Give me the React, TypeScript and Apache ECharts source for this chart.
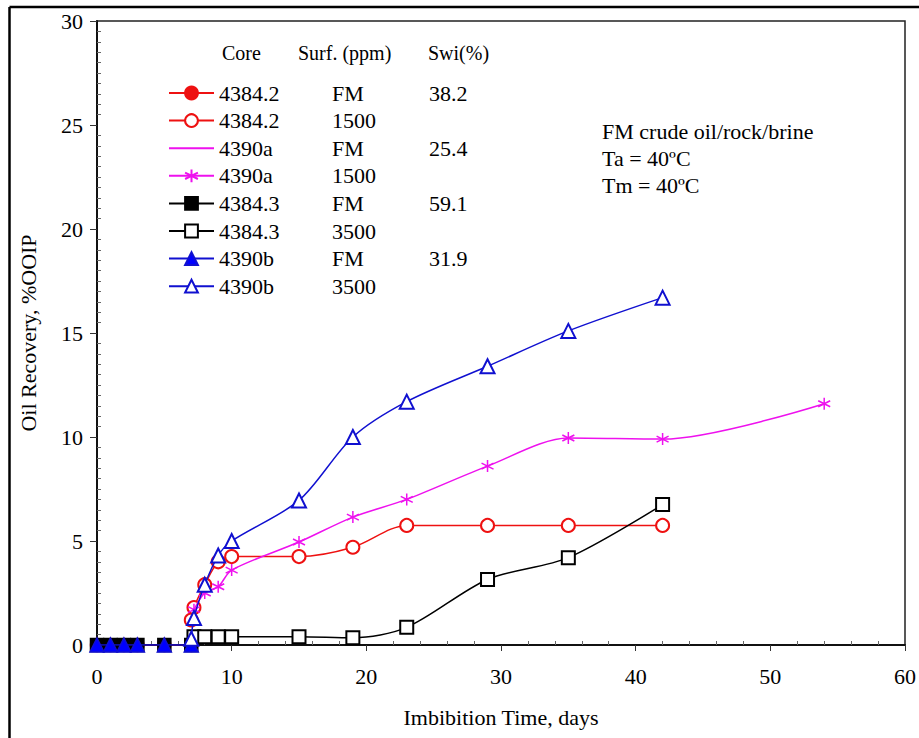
import React, { useEffect, useRef } from "react";
import * as echarts from "echarts";

// ---- data ----
const xTicks = [0, 10, 20, 30, 40, 50, 60];
const yTicks = [0, 5, 10, 15, 20, 25, 30];

const fmDays = [0, 1, 2, 3, 5, 7];
const fmRecovery = [0, 0, 0, 0, 0, 0];

const red1500Days = [7, 7.2, 8, 9, 10, 15, 19, 23, 29, 35, 42];
const red1500Rec = [1.2, 1.8, 2.9, 4.0, 4.25, 4.25, 4.7, 5.75, 5.75, 5.75, 5.75];

const mag1500Days = [7.2, 8, 9, 10, 15, 19, 23, 29, 35, 42, 54];
const mag1500Rec = [1.7, 2.5, 2.8, 3.6, 4.95, 6.15, 7.0, 8.6, 9.95, 9.9, 11.6];

const blk3500Days = [7.2, 8, 9, 10, 15, 19, 23, 29, 35, 42];
const blk3500Rec = [0.4, 0.4, 0.4, 0.4, 0.4, 0.35, 0.85, 3.15, 4.2, 6.75];

const blu3500Days = [7, 7.2, 8, 9, 10, 15, 19, 23, 29, 35, 42];
const blu3500Rec = [0.3, 1.3, 2.9, 4.3, 5.0, 6.95, 10.0, 11.7, 13.4, 15.1, 16.7];

const legendCore = ["4384.2", "4384.2", "4390a", "4390a", "4384.3", "4384.3", "4390b", "4390b"];
const legendSurf = ["FM", "1500", "FM", "1500", "FM", "3500", "FM", "3500"];
const legendSwi = ["38.2", "", "25.4", "", "59.1", "", "31.9", ""];

const headerLabels = ["Core", "Surf. (ppm)", "Swi(%)"];
const noteLines = ["FM crude oil/rock/brine", "Ta = 40ºC", "Tm = 40ºC"];

const RED = "#ee1111";
const MAG = "#ee11ee";
const BLK = "#000000";
const BLU = "#1010d0";
const FONT = "Liberation Serif";

const STAR = "path://M5,0 L5,10 M0.67,2.5 L9.33,7.5 M0.67,7.5 L9.33,2.5";

function pairs(xs: number[], ys: number[]) {
  return xs.map((x, i) => [x, ys[i]]);
}

export default function App() {
  const ref = useRef<HTMLDivElement>(null);
  useEffect(() => {
    if (!ref.current) return;
    document.body.style.margin = "0";
    const chart = echarts.init(ref.current, null, { renderer: "svg" });
    const names = legendCore.map((c, i) => `${c}|${legendSurf[i]}|${legendSwi[i]}`);

    const mk = (
      idx: number,
      xs: number[],
      ys: number[],
      color: string,
      symbol: string,
      size: number,
      fill: string
    ) => ({
      type: "line",
      name: names[idx],
      data: pairs(xs, ys),
      smooth: 0.3,
      symbol,
      symbolSize: size,
      showSymbol: symbol !== "none",
      lineStyle: { color, width: 1.5 },
      itemStyle: { color: fill, borderColor: color, borderWidth: 1.5 },
      emphasis: { disabled: true },
      z: 2 + idx,
    });

    const series = [
      mk(0, fmDays, fmRecovery, RED, "circle", 13, RED),
      mk(1, red1500Days, red1500Rec, RED, "emptyCircle", 13, RED),
      mk(2, fmDays, fmRecovery, MAG, "none", 10, MAG),
      mk(3, mag1500Days, mag1500Rec, MAG, STAR, 12, MAG),
      mk(4, fmDays, fmRecovery, BLK, "rect", 13, BLK),
      mk(5, blk3500Days, blk3500Rec, BLK, "emptyRect", 13, BLK),
      mk(6, fmDays, fmRecovery, BLU, "triangle", 14, "#0000ff"),
      mk(7, blu3500Days, blu3500Rec, BLU, "emptyTriangle", 14, BLU),
    ];

    const axisFont = { fontFamily: FONT, fontSize: 22, color: "#000" };

    chart.setOption({
      animation: false,
      backgroundColor: "#fff",
      textStyle: { fontFamily: FONT },
      grid: {
        left: 97,
        right: 14,
        top: 21,
        bottom: 93,
        show: true,
        borderColor: "#222",
        borderWidth: 1.5,
        backgroundColor: "transparent",
      },
      xAxis: [
        {
          type: "value",
          min: xTicks[0],
          max: xTicks[xTicks.length - 1],
          interval: 10,
          position: "bottom",
          name: "Imbibition Time, days",
          nameLocation: "middle",
          nameGap: 61,
          nameTextStyle: { ...axisFont, fontSize: 22 },
          axisLine: { show: true, lineStyle: { color: "#111", width: 2 } },
          axisTick: { show: true, inside: false, length: 6, lineStyle: { color: "#333", width: 1 } },
          axisLabel: { ...axisFont, margin: 20 },
          splitLine: { show: false },
        },
        {
          type: "value",
          min: xTicks[0],
          max: xTicks[xTicks.length - 1],
          interval: 10,
          position: "bottom",
          axisLine: { show: false },
          axisTick: { show: true, inside: true, length: 0 },
          minorTick: { show: true, splitNumber: 5, length: 4, lineStyle: { color: "#666", width: 1 } },
          axisLabel: { show: false },
          splitLine: { show: false },
        },
      ],
      yAxis: [
        {
          type: "value",
          min: yTicks[0],
          max: yTicks[yTicks.length - 1],
          interval: 5,
          position: "left",
          name: "Oil Recovery, %OOIP",
          nameLocation: "middle",
          nameGap: 58,
          nameTextStyle: { ...axisFont, fontSize: 22 },
          axisLine: { show: true, lineStyle: { color: "#111", width: 2 } },
          axisTick: { show: true, inside: false, length: 7, lineStyle: { color: "#333", width: 1 } },
          axisLabel: { ...axisFont, margin: 14 },
          splitLine: { show: false },
        },
        {
          type: "value",
          min: yTicks[0],
          max: yTicks[yTicks.length - 1],
          interval: 5,
          position: "left",
          axisLine: { show: false },
          axisTick: { show: true, inside: true, length: 0 },
          minorTick: { show: true, splitNumber: 10, length: 4, lineStyle: { color: "#666", width: 1 } },
          axisLabel: { show: false },
          splitLine: { show: false },
        },
      ],
      legend: {
        orient: "vertical",
        left: 163,
        top: 77,
        itemWidth: 45,
        itemHeight: 16,
        itemGap: 5.6,
        selectedMode: false,
        data: names.map((n, i) =>
          i === 2 ? { name: n, itemStyle: { opacity: 0 } } : { name: n }
        ),
        formatter: (n: string) => {
          const [a, b, c] = n.split("|");
          return `{a|${a}}{b|${b}}{c|${c || " "}}`;
        },
        textStyle: {
          fontFamily: FONT,
          fontSize: 22,
          lineHeight: 22,
          color: "#000",
          rich: {
            a: { fontFamily: FONT, fontSize: 22, lineHeight: 22, width: 113, color: "#000" },
            b: { fontFamily: FONT, fontSize: 22, lineHeight: 22, width: 97, color: "#000" },
            c: { fontFamily: FONT, fontSize: 22, lineHeight: 22, color: "#000" },
          },
        },
      },
      graphic: [
        { type: "line", shape: { x1: 9.5, y1: 7, x2: 919, y2: 7 }, style: { stroke: "#000", lineWidth: 2.5 }, silent: true },
        { type: "line", shape: { x1: 9.5, y1: 7, x2: 9.5, y2: 738 }, style: { stroke: "#000", lineWidth: 2.5 }, silent: true },
        ...headerLabels.map((t, i) => ({
          type: "text",
          x: [222, 298, 428][i],
          y: 53,
          style: { text: t, fontFamily: FONT, fontSize: 20, fill: "#000", verticalAlign: "middle" },
          silent: true,
        })),
        ...noteLines.map((t, i) => ({
          type: "text",
          x: 602,
          y: [131, 158, 185][i],
          style: { text: t, fontFamily: FONT, fontSize: 22, fill: "#000", verticalAlign: "middle" },
          silent: true,
        })),
      ],
      series,
    });
    return () => chart.dispose();
  }, []);
  return (
    <div
      ref={ref}
      style={{ position: "fixed", left: 0, top: 0, width: 919, height: 738, background: "#fff" }}
    />
  );
}
